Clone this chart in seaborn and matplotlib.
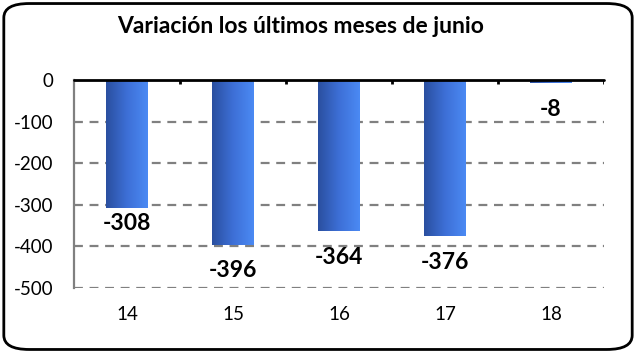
import matplotlib.pyplot as plt
import seaborn as sns
import pandas as pd
import numpy as np
from matplotlib.colors import LinearSegmentedColormap
from matplotlib.patches import FancyBboxPatch

# Data
years = ['14', '15', '16', '17', '18']
variation = [-308, -396, -364, -376, -8]

df = pd.DataFrame({'year': years, 'value': variation})

sns.set_theme(style="white")
plt.rcParams['font.family'] = ['Lato', 'DejaVu Sans']
plt.rcParams['axes.unicode_minus'] = False

fig = plt.figure(figsize=(6.36, 3.53), dpi=100)
ax = fig.add_axes([0.1164, 0.1841, 0.8333, 0.5892])

sns.barplot(data=df, x='year', y='value', ax=ax, width=0.39, color='#3b6fd0')

# Gradient fill replacing the flat bars
grad_cmap = LinearSegmentedColormap.from_list('bar', ['#2a4f9f', '#3d6fd6', '#4b8af4'])
gradient = np.linspace(0, 1, 256).reshape(1, -1)
for patch in ax.patches:
    x0, y0 = patch.get_x(), patch.get_y()
    w, h = patch.get_width(), patch.get_height()
    patch.set_visible(False)
    ax.imshow(gradient, cmap=grad_cmap, aspect='auto',
              extent=(x0, x0 + w, y0 + h, y0), zorder=3)

ax.set_xlim(-0.5, len(years) - 0.5)
ax.set_ylim(-500, 0)

# Dashed gridlines
for yv in [-100, -200, -300, -400, -500]:
    ax.axhline(yv, color='#808080', lw=1.6, ls=(0, (4, 3)), zorder=1)

# Zero line with category tick marks
ax.axhline(0, color='black', lw=2, zorder=4, clip_on=False)
ax.vlines(np.arange(len(years)) + 0.5, -9, 0, color='black', lw=2, zorder=4)

# Value labels below bars (first one sits a little closer)
label_gap = [36, 62, 62, 62, 62]
for i, v in enumerate(variation):
    ax.text(i, v - label_gap[i], f'{v}', ha='center', va='center', fontsize=16.5,
            fontweight='bold', color='black', zorder=5)

for side in ['top', 'right', 'bottom']:
    ax.spines[side].set_visible(False)
ax.spines['left'].set_color('#808080')
ax.spines['left'].set_linewidth(1.6)

ax.set_yticks([0, -100, -200, -300, -400, -500])
ax.tick_params(axis='y', direction='inout', length=8, width=1.5, color='#808080',
               labelsize=13.5, pad=11, labelcolor='black')
ax.tick_params(axis='x', length=0, pad=13, labelsize=13.5, labelcolor='black')
ax.set_xlabel('')
ax.set_ylabel('')

fig.text(0.472, 0.926, 'Variación los últimos meses de junio', ha='center', va='center',
         fontsize=16.5, fontweight='bold', color='black')

# Rounded border
border = FancyBboxPatch((0.006, 0.01), 0.988, 0.98, boxstyle='round,pad=0,rounding_size=0.04',
                        transform=fig.transFigure, fill=False, edgecolor='black', lw=2)
fig.patches.append(border)

plt.savefig('out.png', dpi=100, facecolor='white')
plt.close()
